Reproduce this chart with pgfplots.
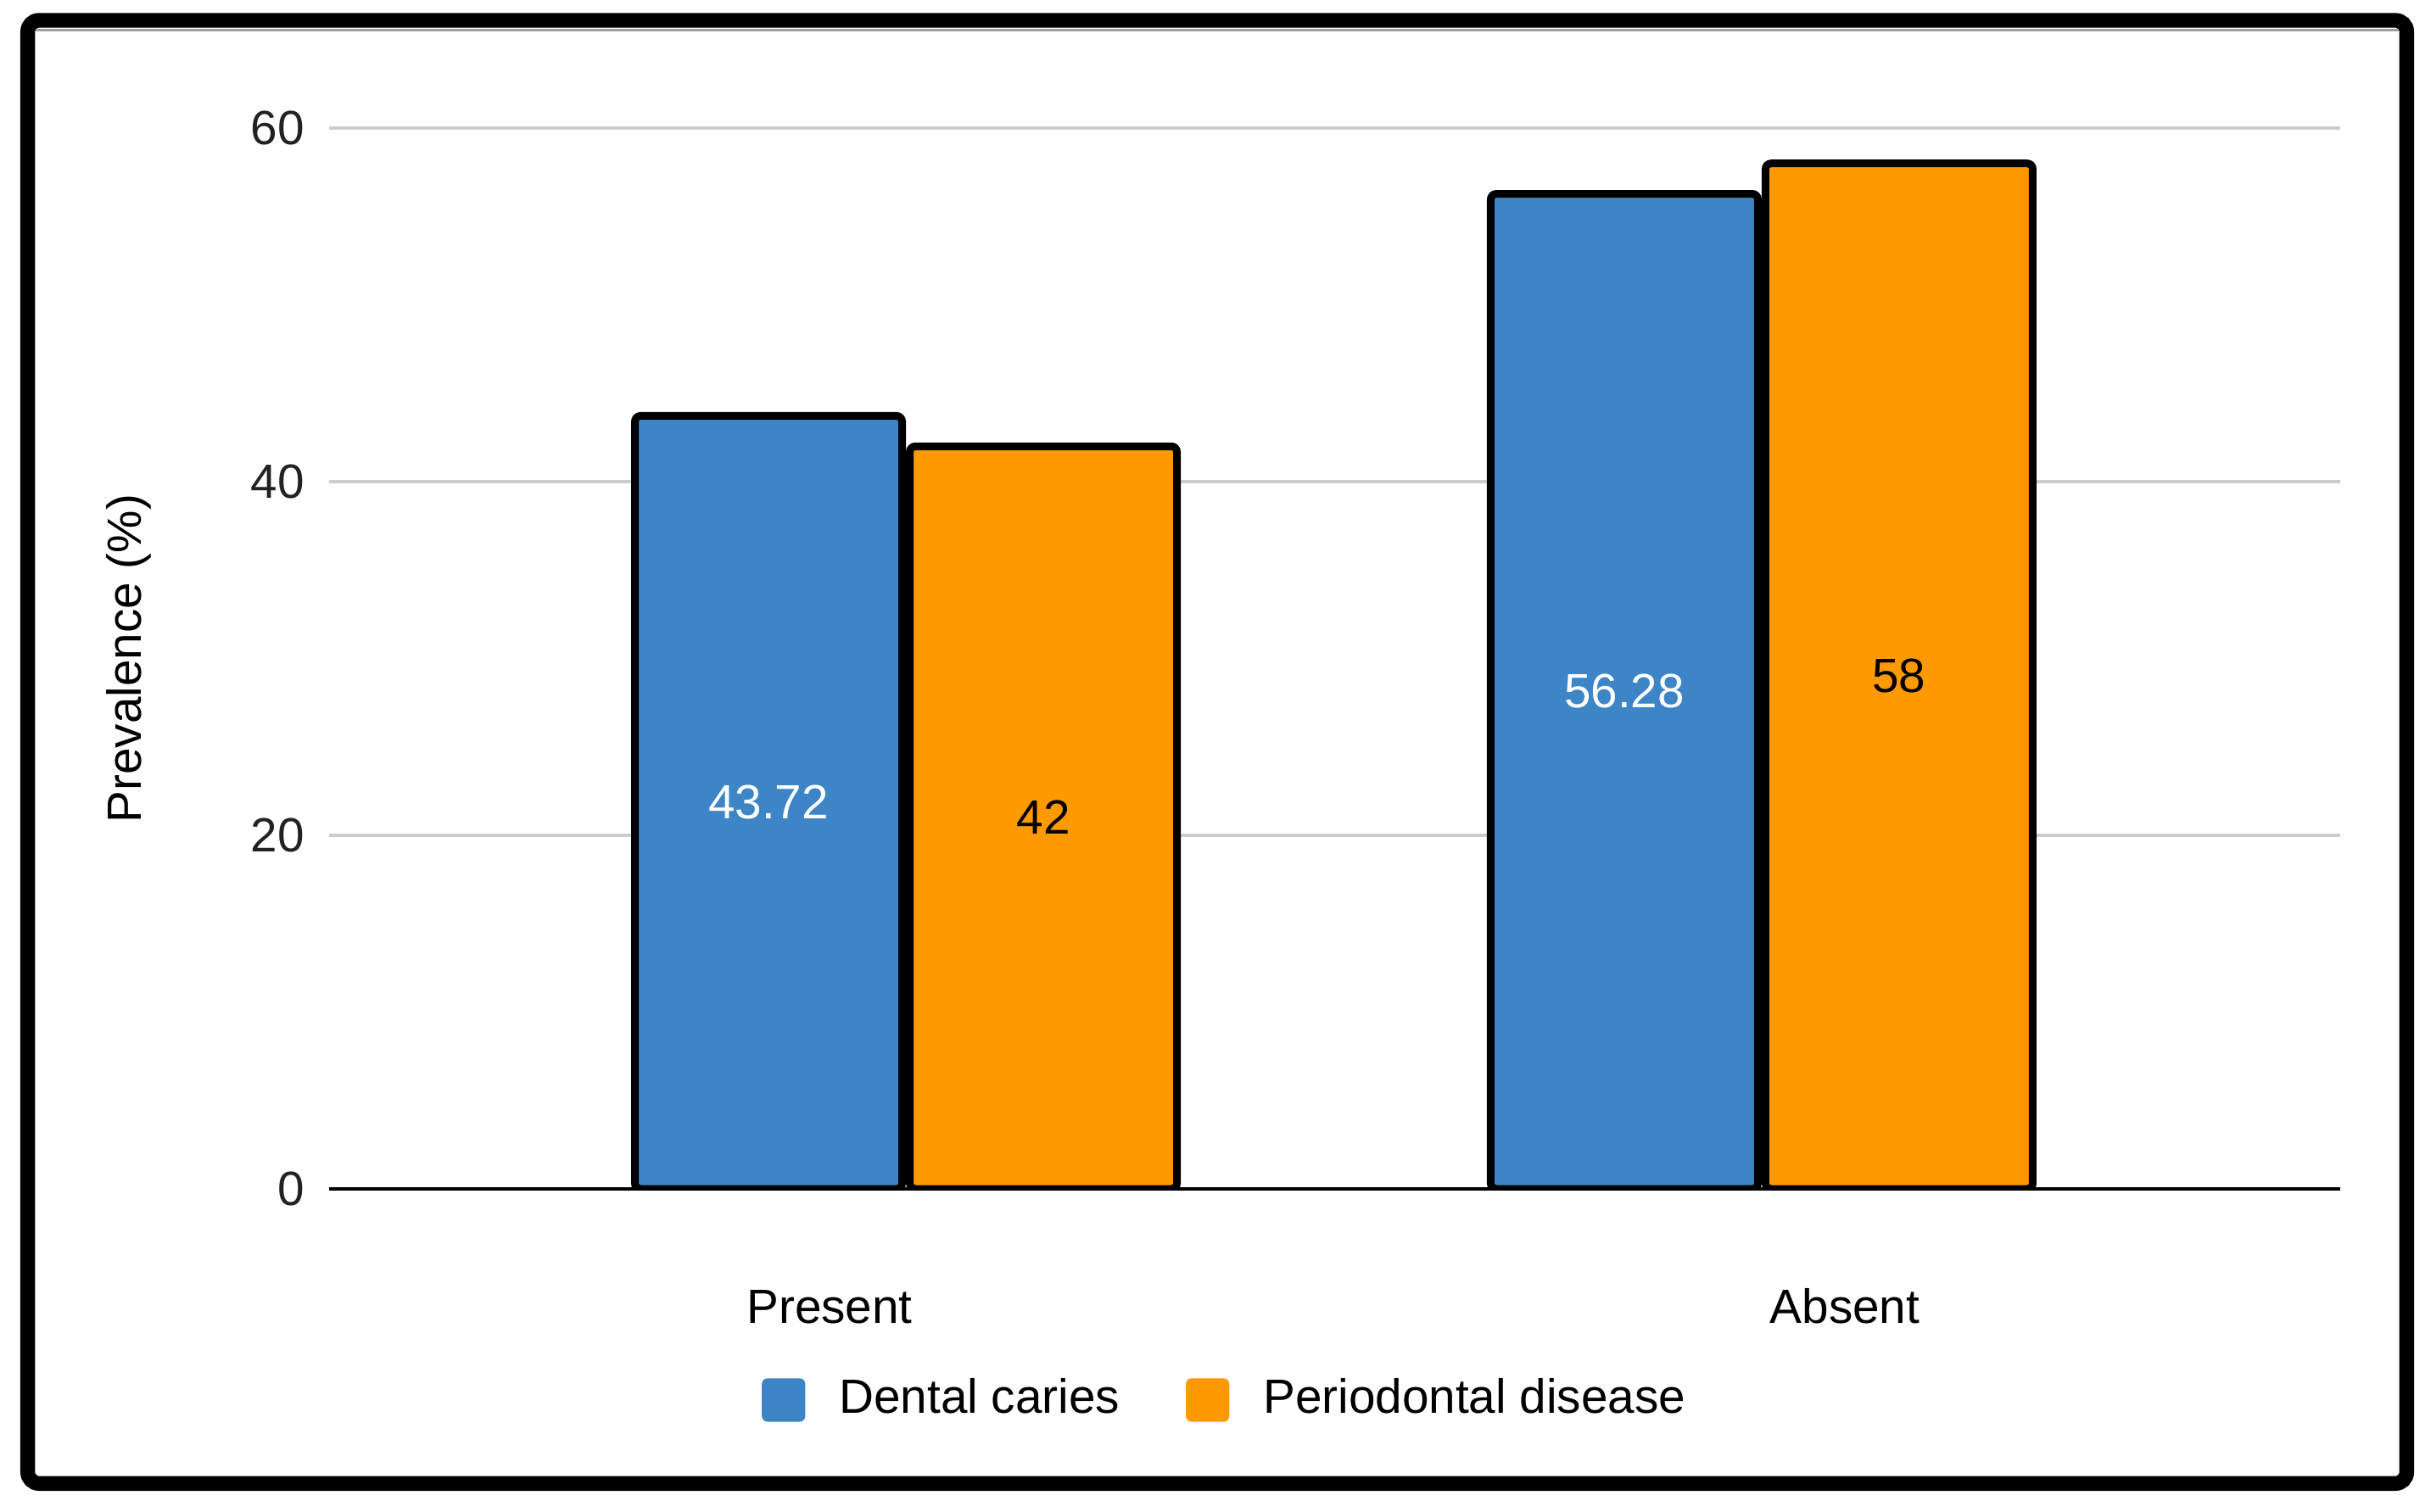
\documentclass[border=0pt]{standalone}
\usepackage{fontspec}
\setmainfont{Liberation Sans}
\usepackage{pgfplots}
\pgfplotsset{compat=1.18}

\definecolor{caries}{HTML}{3D85C6}
\definecolor{perio}{HTML}{FF9900}
\definecolor{gridgray}{HTML}{CCCCCC}
\definecolor{ticktext}{HTML}{222222}

\begin{document}
\begin{tikzpicture}[font=\fontsize{8.5}{10}\selectfont]
% page size and outer frame
\path (-58.2pt,-57pt) rectangle (371.7pt,210.3pt);
\draw[line width=2.6pt, rounded corners=2pt] (-53.3pt,-52.1pt) rectangle (367.4pt,206.7pt);
\draw[gray!75, line width=0.5pt] (-51.9pt,205.0pt) -- (366.0pt,205.0pt);

\begin{axis}[
    scale only axis,
    width=355.65pt,
    height=187.65pt,
    ybar=1.35pt,
    bar width=47.25pt,
    xmin=-0.674, xmax=1.676,
    ymin=0, ymax=60,
    ytick={20,40,60},
    extra y ticks={0},
    extra y tick style={grid style={black, line width=0.6pt}},
    ymajorgrids,
    grid style={gridgray, line width=0.6pt},
    axis line style={draw=none},
    major tick length=0pt,
    xtick={-0.0892,1.0971},
    xticklabels={Present,Absent},
    xticklabel style={anchor=base, inner sep=0pt, yshift=-23.7pt, text=black},
    yticklabel style={anchor=east, inner sep=0pt, xshift=-4.2pt, text=ticktext},
    /pgf/number format/assume math mode=true,
    ylabel={Prevalence (\%)},
    ylabel style={at={(axis description cs:-0.0995,0.5)}, anchor=center, rotate=0},
    legend columns=-1,
    legend style={draw=none, at={(axis description cs:0.4448,-0.199)}, anchor=center,
        /tikz/every odd column/.append style={column sep=6pt},
        /tikz/every even column/.append style={column sep=11.7pt},
        nodes={inner sep=0pt}},
    legend image code/.code={\fill[#1, draw=none, rounded corners=1pt] (0cm,-0.135cm) rectangle (0.27cm,0.135cm);},
    nodes near coords,
    visualization depends on=rawy \as \rawy,
    every node near coord/.append style={anchor=center, shift={(axis direction cs:0,-\rawy/2)}},
]
\addplot[fill=caries, draw=black, line width=1.35pt, rounded corners=1pt,
    every node near coord/.append style={text=white}]
    coordinates {(0,43.72) (1,56.28)};
\addlegendentry{Dental caries}
\addplot[fill=perio, draw=black, line width=1.35pt, rounded corners=1pt,
    every node near coord/.append style={text=black}]
    coordinates {(0,42) (1,58)};
\addlegendentry{Periodontal disease}
\end{axis}
\end{tikzpicture}
\end{document}
